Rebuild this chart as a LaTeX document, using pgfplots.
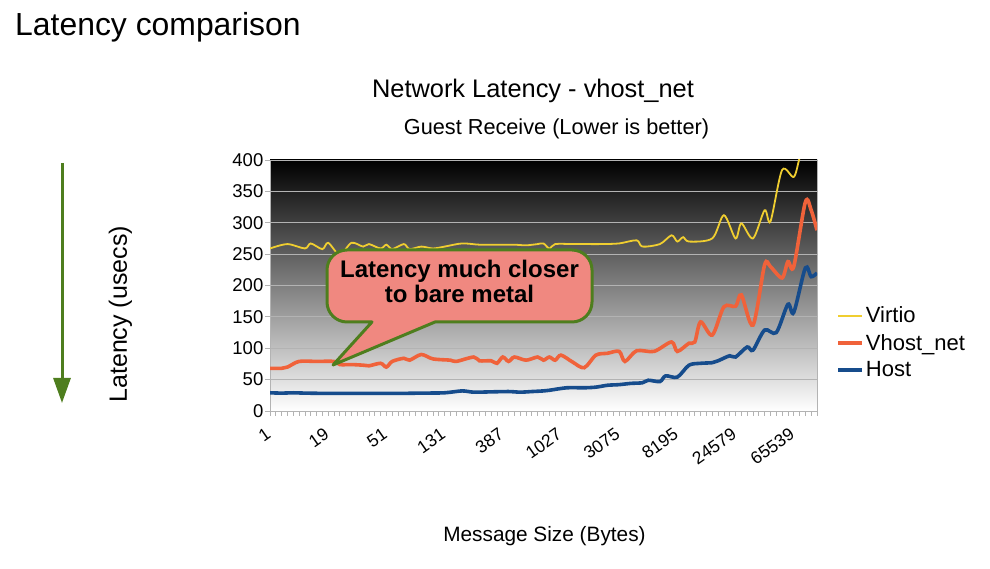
\documentclass[border=0pt]{standalone}
\usepackage{pgfplots}
\pgfplotsset{compat=1.18}
\usepackage{fontspec}
\setmainfont{Liberation Sans}
\usetikzlibrary{arrows.meta}
\definecolor{gridgray}{RGB}{179,179,179}
\definecolor{cvirtio}{RGB}{240,206,48}
\definecolor{cvhost}{RGB}{240,98,58}
\definecolor{chost}{RGB}{22,76,140}
\definecolor{cgreen}{RGB}{78,126,30}
\definecolor{csalmon}{RGB}{240,136,128}
\begin{document}
\begin{tikzpicture}[x=1bp,y=1bp]
\path (0,0) rectangle (990,569);
\node[anchor=base west, font=\fontsize{31.9bp}{38bp}\selectfont, inner sep=0] at (15,533) {Latency comparison};
\node[anchor=base, font=\fontsize{25.4bp}{30bp}\selectfont, inner sep=0] at (533,471) {Network Latency - vhost\_net};
\node[anchor=base, font=\fontsize{21.7bp}{26bp}\selectfont, inner sep=0] at (556.5,434) {Guest Receive (Lower is better)};
\draw[cgreen, line width=3bp, -{Triangle[width=17bp,length=25bp]}] (62,406) -- (62,166);
\begin{axis}[
  at={(270bp,158bp)}, anchor=south west,
  scale only axis, width=547bp, height=251bp,
  xmin=0, xmax=94, ymin=0, ymax=400,
  ytick={0,50,...,400},
  xtick={0,10,...,90},
  xticklabels={1,19,51,131,387,1027,3075,8195,24579,65539},
  minor xtick={0,...,94},
  xtick pos=bottom, ytick pos=left,
  tick align=outside, major tick length=5bp, minor tick length=5bp,
  tick style={color=gridgray, line width=0.8bp},
  axis line style={gridgray, line width=0.8bp},
  ymajorgrids, grid style={gridgray, line width=0.8bp},
  axis background/.style={top color=black, bottom color=white},
  /pgf/number format/assume math mode=true,
  yticklabel style={inner sep=1.5bp, font=\fontsize{18.5bp}{21bp}\selectfont},
  xticklabel style={xshift=-5bp, yshift=-11bp, rotate=35, anchor=north east, inner sep=0pt, font=\fontsize{17.5bp}{20bp}\selectfont},
  xlabel={Message Size (Bytes)},
  xlabel style={at={(axis description cs:0.5018,-0.518)}, anchor=base, font=\fontsize{20.8bp}{25bp}\selectfont},
  ylabel={Latency (usecs)},
  ylabel style={at={(axis description cs:-0.2737,0.385)}, anchor=center, font=\fontsize{25bp}{29bp}\selectfont},
  legend style={at={(axis description cs:1.035,0.272)}, anchor=west, draw=none, fill=none,
    font=\fontsize{22bp}{26bp}\selectfont, row sep=6bp, inner sep=0pt, cells={anchor=west}},
  legend image code/.code={\draw[#1] (0bp,0bp)--(24bp,0bp);},
  every axis plot/.append style={smooth, no markers},
]
\addplot[cvirtio, line width=1.8bp] coordinates {
(0,259)(3,266)(6,259)(7,267)(9,258)(10,268)(12,249)(14,268)(16,262)(17,266)(19,259)(20,265)(21,258)(23,266)(24,258)(26,262)(28,259)(30,262)(33,267)(36,265)(39,265)(42,265)(44,264)(46,266)(47,267)(48,259)(49,266)(52,266)(54,266)(57,266)(60,267)(63,272)(64,262)(67,266)(69,280)(70,270)(71,277)(72,270)(76,275)(78,312)(80,275)(81,299)(83,275)(85,320)(86,302)(88,384)(90,373)(91,403)(92,430)
};
\addlegendentry{Virtio}
\addplot[cvhost, line width=3.6bp] coordinates {
(0,68)(2,68)(3,70)(5,79)(8,79)(11,79)(12,74)(14,74)(16,73)(17,72)(19,76)(20,70)(21,79)(23,84)(24,81)(26,90)(28,83)(31,81)(32,79)(35,86)(36,80)(38,80)(39,76)(40,86)(41,79)(42,86)(44,81)(46,86)(47,81)(48,86)(49,81)(50,89)(52,78)(54,69)(56,89)(58,92)(60,95)(61,79)(63,96)(66,95)(69,110)(70,95)(72,108)(73,110)(74,142)(76,121)(78,166)(80,167)(81,185)(83,137)(85,233)(86,230)(88,212)(89,238)(90,230)(92,333)(93,320)(94,288)
};
\addlegendentry{Vhost\_net}
\addplot[chost, line width=3.6bp] coordinates {
(0,29)(2,28.5)(4,29)(6,28.5)(10,28)(14,28)(18,28)(22,28)(26,28.5)(30,29)(33,32)(35,30)(38,30.5)(41,31)(43,30)(45,31)(47,32)(48,33)(51,37)(54,37)(56,38)(58,41)(60,42)(62,44)(64,45)(65,49)(67,47)(68,56)(70,54)(72,73)(74,76)(76,77)(77,80)(79,88)(80,86)(82,102)(83,97)(85,129)(87,125)(89,170)(90,157)(92,228)(93,214)(94,220)
};
\addlegendentry{Host}
\end{axis}
\draw[cgreen, line width=3bp, fill=csalmon, line join=round]
  (372,247) -- (347,247) arc[start angle=270, end angle=180, radius=20]
  -- (327,299) arc[start angle=180, end angle=90, radius=20]
  -- (572,319) arc[start angle=90, end angle=0, radius=20]
  -- (592,267) arc[start angle=0, end angle=-90, radius=20]
  -- (435,247) -- (333,204) -- cycle;
\node[align=center, font=\bfseries\fontsize{24bp}{25bp}\selectfont, inner sep=0] at (459.5,288) {Latency much closer\\to bare metal};
\end{tikzpicture}
\end{document}
